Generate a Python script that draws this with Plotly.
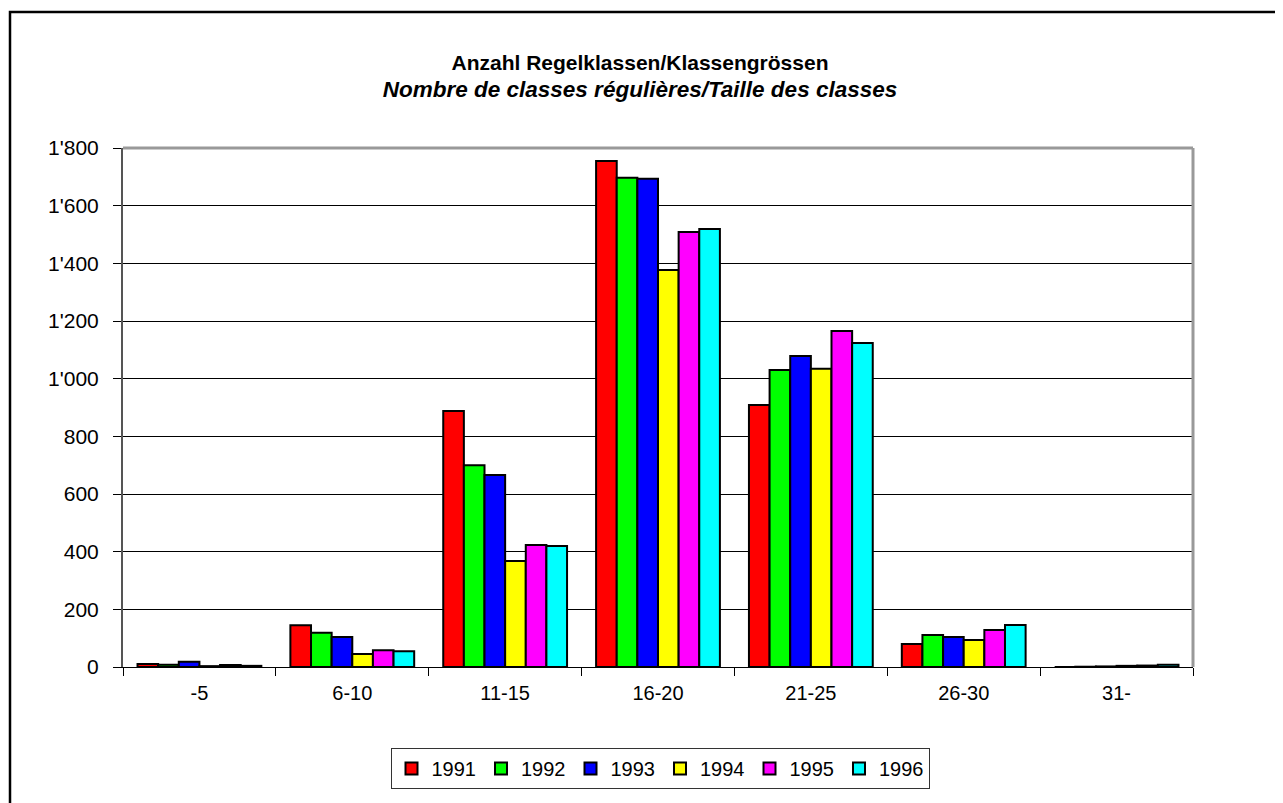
import plotly.graph_objects as go

categories = ["-5", "6-10", "11-15", "16-20", "21-25", "26-30", "31-"]
years = ["1991", "1992", "1993", "1994", "1995", "1996"]
colors = ["#FF0000", "#00FF00", "#0000FF", "#FFFF00", "#FF00FF", "#00FFFF"]

v1991 = [10, 145, 888, 1755, 909, 80, 0]
v1992 = [8, 119, 700, 1697, 1030, 111, 1]
v1993 = [18, 104, 666, 1693, 1079, 104, 2]
v1994 = [3, 45, 368, 1377, 1034, 94, 4]
v1995 = [7, 58, 423, 1509, 1165, 128, 5]
v1996 = [4, 55, 420, 1519, 1124, 146, 8]
series = [v1991, v1992, v1993, v1994, v1995, v1996]

font = "Liberation Sans, Arial, sans-serif"

W, H = 1275, 795
L, T, R, B = 115, 140, 90, 136
pw, ph = W - L - R, H - T - B

fig = go.Figure()
for y, c, vals in zip(years, colors, series):
    fig.add_trace(go.Bar(
        x=categories, y=vals, name=y,
        marker=dict(color=c, line=dict(color="black", width=2)),
    ))

fig.update_layout(
    width=W, height=H,
    paper_bgcolor="white", plot_bgcolor="white",
    margin=dict(l=L, r=R, t=T, b=B, autoexpand=False),
    barmode="group", bargap=0.19, bargroupgap=0,
    separators=".'",
    font=dict(family=font, size=20, color="black"),
    title=dict(
        text="<b>Anzahl Regelklassen/Klassengrössen</b><br>"
             "<span style='font-size:22.5px'><b><i>Nombre de classes régulières/Taille des classes</i></b></span>",
        x=(640 - 8) / W, xanchor="center", xref="container",
        y=1 - 62 / H, yanchor="middle", yref="container",
        font=dict(family=font, size=21, color="black"),
    ),
    showlegend=True,
    legend=dict(
        orientation="h", x=(660 - 8 - L) / pw, xanchor="center",
        y=(ph + T - 740) / ph, yanchor="top",
        bordercolor="#333333", borderwidth=1,
        font=dict(family=font, size=20, color="black"),
        itemsizing="constant", traceorder="normal",
        itemwidth=30, tracegroupgap=0,
    ),
    xaxis=dict(
        type="category", tickson="boundaries", ticks="outside", ticklen=8,
        tickcolor="black", tickwidth=1,
        showline=True, linecolor="black", linewidth=1,
        showgrid=False, mirror=False,
        ticklabelstandoff=8,
        tickfont=dict(family=font, size=20, color="black"),
    ),
    yaxis=dict(
        range=[0, 1800], tickvals=[0, 200, 400, 600, 800, 1000, 1200, 1400, 1600, 1800],
        tickformat=",d", ticks="outside", ticklen=8, tickcolor="black", tickwidth=1,
        showline=True, linecolor="#555555", linewidth=2,
        showgrid=True, gridcolor="black", gridwidth=1,
        zeroline=False,
        ticklabelstandoff=10,
        tickfont=dict(family=font, size=21, color="black"),
    ),
    shapes=[
        dict(type="line", xref="paper", yref="paper", x0=0, x1=1, y0=1, y1=1,
             line=dict(color="#999999", width=3), layer="above"),
        dict(type="line", xref="paper", yref="paper", x0=1, x1=1, y0=0, y1=1,
             line=dict(color="#999999", width=3), layer="above"),
        dict(type="rect", xref="paper", yref="paper",
             x0=(2 - L) / pw, x1=1.3, y0=-0.5, y1=(ph + T - 4) / ph,
             line=dict(color="black", width=2.5), fillcolor="rgba(0,0,0,0)", layer="below"),
    ],
)

fig.write_html("out.html")
